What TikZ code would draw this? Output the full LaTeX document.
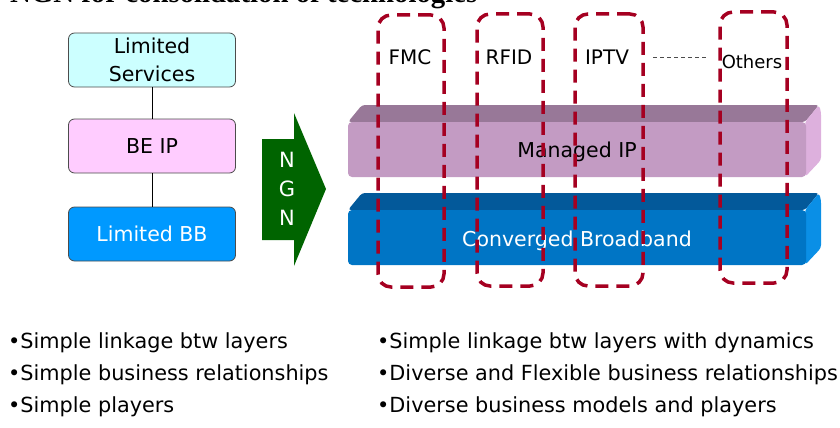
\documentclass[tikz,border=0pt]{standalone}
\usepackage{fontspec}
\setmainfont{DejaVu Sans}
\newfontfamily\titlefont{Liberation Serif}
\definecolor{dashred}{HTML}{A50021}
\definecolor{lsfill}{HTML}{CCFFFF}
\definecolor{befill}{HTML}{FFCCFF}
\definecolor{bbfill}{HTML}{0099FF}
\definecolor{ngngreen}{HTML}{006400}
\definecolor{miptop}{HTML}{987898}
\definecolor{mipfront}{HTML}{C39BC3}
\definecolor{mipside}{HTML}{DDB0DD}
\definecolor{cbbtop}{HTML}{03599A}
\definecolor{cbbfront}{HTML}{0075C5}
\definecolor{cbbside}{HTML}{0A8FE6}
\begin{document}
\begin{tikzpicture}[x=1pt,y=-1pt,
  layerbox/.style={draw=black!70, line width=0.8pt, rounded corners=6pt,
    minimum width=167pt, minimum height=54pt, inner sep=0pt, align=center,
    font=\fontsize{20.5}{28}\selectfont},
  techbox/.style={draw=dashred, line width=3.5pt, dash pattern=on 13pt off 8pt,
    rounded corners=13pt, inner sep=0pt},
  techlabel/.style={anchor=base, inner sep=0pt, font=\fontsize{20}{24}\selectfont},
  bartext/.style={anchor=base, inner sep=0pt, font=\fontsize{20.5}{24}\selectfont},
  bulletline/.style={anchor=base west, inner sep=0pt, font=\fontsize{20.8}{24}\selectfont},
  link/.style={draw=black, line width=0.8pt}
]
\path[use as bounding box] (0,0) rectangle (840,428);
\clip (0,0) rectangle (840,428);

% title (cut off at top)
\node[anchor=base west, inner sep=0pt, font=\titlefont\bfseries\fontsize{28.8}{30}\selectfont] (title) at (10,3) {NGN for consolidation of technologies};

% left stack
\node[layerbox, fill=lsfill] (ls) at (152,60) {Limited\\Services};
\node[layerbox, fill=befill] (be) at (152,146) {BE IP};
\node[layerbox, fill=bbfill, text=white] (bb) at (152,234) {Limited BB};
\draw[link] (ls) -- (be);
\draw[link] (be) -- (bb);

% NGN arrow
\fill[ngngreen] (262,139) -- (294,139) -- (294,113) -- (326,189) -- (294,266) -- (294,240) -- (262,240) -- cycle;
\node[text=white, align=center, inner sep=0pt, font=\fontsize{21}{29}\selectfont] (ngn) at (287,189) {N\\G\\N};

% Managed IP bar
\fill[miptop, rounded corners=3pt] (348,122) -- (362,105) -- (819,105) -- (805,122) -- cycle;
\fill[mipside, rounded corners=3pt] (805,122) -- (819,105) -- (821,112) -- (821,160) -- (805,177) -- cycle;
\fill[mipfront, rounded corners=4pt] (348,122) rectangle (806,177);
\node[bartext] (mip) at (577,157) {Managed IP};

% Converged Broadband bar
\fill[cbbtop, rounded corners=3pt] (348,210) -- (362,193) -- (819,193) -- (805,210) -- cycle;
\fill[cbbside, rounded corners=3pt] (805,210) -- (819,193) -- (821,200) -- (821,248) -- (805,265) -- cycle;
\fill[cbbfront, rounded corners=4pt] (348,210) rectangle (806,265);
\node[bartext, text=white] (cbb) at (577,246) {Converged Broadband};

% technology labels
\node[techlabel] (fmc) at (410,65) {FMC};
\node[techlabel] (rfid) at (509,65) {RFID};
\node[techlabel] (iptv) at (607,65) {IPTV};
\node[techlabel, font=\fontsize{18}{22}\selectfont] (oth) at (752,68) {Others};
\draw[black!70, line width=0.6pt, dash pattern=on 4pt off 3pt] (653,57) -- (707,57);

% dashed technology boxes
\node[techbox, minimum width=66pt, minimum height=272pt] (fmcbox) at (411,151) {};
\node[techbox, minimum width=66pt, minimum height=272pt] (rfidbox) at (510,150) {};
\node[techbox, minimum width=68pt, minimum height=272pt] (iptvbox) at (609,150) {};
\node[techbox, minimum width=67pt, minimum height=271pt] (othbox) at (753.5,147.5) {};

% bottom text
\node[bulletline] (l1) at (8,348) {•Simple linkage btw layers};
\node[bulletline] (l2) at (8,380) {•Simple business relationships};
\node[bulletline] (l3) at (8,412) {•Simple players};
\node[bulletline] (r1) at (377,348) {•Simple linkage btw layers with dynamics};
\node[bulletline] (r2) at (377,380) {•Diverse and Flexible business relationships};
\node[bulletline] (r3) at (377,412) {•Diverse business models and players};
\end{tikzpicture}
\end{document}
